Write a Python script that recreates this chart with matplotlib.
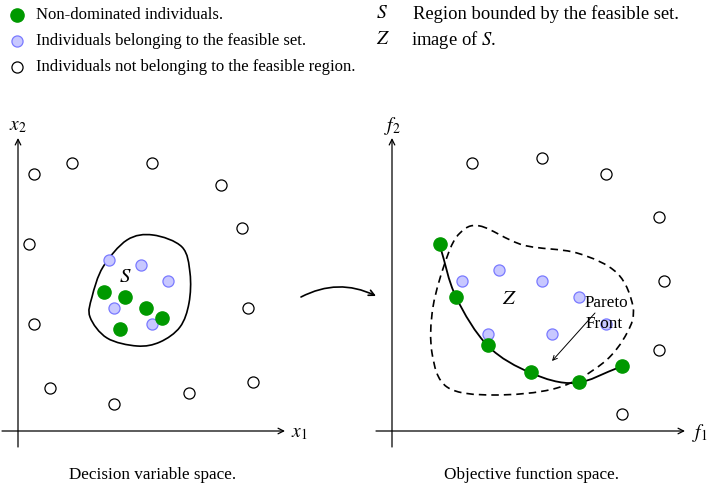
import numpy as np
import matplotlib
matplotlib.use('Agg')
import matplotlib.pyplot as plt
from matplotlib.path import Path
from matplotlib.patches import PathPatch

plt.rcParams['font.family'] = ['Liberation Serif', 'DejaVu Serif']
plt.rcParams['mathtext.fontset'] = 'stix'

# Points in picture coordinates (pixels, y downward)
left_out_x = [34, 72, 152, 221, 242, 29, 248, 34, 50, 114, 189, 253]
left_out_y = [174, 163, 163, 185, 228, 244, 308, 324, 388, 404, 393, 382]
left_feas_x = [109, 141, 168, 114, 152]
left_feas_y = [260, 265, 281, 308, 324]
left_nd_x = [104, 125, 146, 162, 120]
left_nd_y = [292, 297, 308, 318, 329]
region_s_x = [153, 182, 190, 189, 180, 160, 137, 107, 90, 92, 103, 127]
region_s_y = [235, 247, 273, 303, 327, 342, 346, 338, 317, 297, 267, 240]

right_out_x = [472, 542, 606, 659, 664, 659, 622]
right_out_y = [163, 158, 174, 217, 281, 350, 414]
right_feas_x = [462, 499, 542, 579, 606, 488, 552]
right_feas_y = [281, 270, 281, 297, 324, 334, 334]
right_nd_x = [440, 456, 488, 531, 579, 622]
right_nd_y = [244, 297, 345, 372, 382, 366]
front_x = [440, 456, 488, 531, 575, 620]
front_y = [246, 297, 346, 373, 383, 367]
region_z_x = [480, 523, 577, 617, 633, 627, 603, 557, 493, 447, 432, 433, 447, 460]
region_z_y = [226, 245, 253, 273, 307, 333, 363, 388, 395, 387, 353, 307, 257, 233]

GREEN = '#009900'
BLUE_FILL = '#c8c8ff'
BLUE_EDGE = '#7a7aff'


def smooth_path(xs, ys, closed=False):
    """ Catmull-Rom curve through the points, as a cubic Bezier path """
    p = np.column_stack([xs, ys]).astype(float)
    n = len(p)
    if closed:
        idx = [(i - 1) % n for i in range(n + 3)]
        ext = p[idx]
    else:
        ext = np.vstack([2 * p[0] - p[1], p, 2 * p[-1] - p[-2]])
    verts = [ext[1]]
    codes = [Path.MOVETO]
    segs = n if closed else n - 1
    for i in range(segs):
        p0, p1, p2, p3 = ext[i], ext[i + 1], ext[i + 2], ext[i + 3]
        verts += [p1 + (p2 - p0) / 6, p2 - (p3 - p1) / 6, p2]
        codes += [Path.CURVE4] * 3
    return Path(verts, codes)


fig = plt.figure(figsize=(7.07, 4.9), dpi=100)
ax = fig.add_axes([0, 0, 1, 1])
ax.set_xlim(0, 707)
ax.set_ylim(490, 0)
ax.axis('off')

fs = 12.3
arrow = dict(arrowstyle='->', lw=0.9, color='black', shrinkA=0, shrinkB=0,
             mutation_scale=10)

# axes of both panels: (y axis x, x axis start, x axis end, x label x)
for x0, xs, xe, xl, ylab, xlab in [(18, 2, 285, 291, r'$x_2$', r'$x_1$'),
                                   (392, 376, 685, 692, r'$f_2$', r'$f_1$')]:
    ax.annotate('', xy=(x0, 138), xytext=(x0, 447), arrowprops=arrow)
    ax.annotate('', xy=(xe, 431), xytext=(xs, 431), arrowprops=arrow)
    ax.text(x0, 126, ylab, fontsize=14, ha='center', va='center')
    ax.text(xl, 433, xlab, fontsize=14, ha='left', va='center')

# regions
ax.add_patch(PathPatch(smooth_path(region_s_x, region_s_y, closed=True),
                       fill=False, lw=1.2, color='black'))
ax.add_patch(PathPatch(smooth_path(region_z_x, region_z_y, closed=True),
                       fill=False, lw=1.2, color='black', ls=(0, (4.5, 3))))

# points
ms_open, ms_feas, ms_nd = 8, 8, 9.5
for ox, oy, fx, fy, gx, gy in [(left_out_x, left_out_y, left_feas_x, left_feas_y, left_nd_x, left_nd_y),
                               (right_out_x, right_out_y, right_feas_x, right_feas_y, right_nd_x, right_nd_y)]:
    ax.plot(ox, oy, 'o', ms=ms_open, mfc='white', mec='black', mew=0.9, ls='none')
    ax.plot(fx, fy, 'o', ms=ms_feas, mfc=BLUE_FILL, mec=BLUE_EDGE, mew=0.9, ls='none')
    ax.plot(gx, gy, 'o', ms=ms_nd, mfc=GREEN, mec=GREEN, ls='none')

# pareto front
ax.add_patch(PathPatch(smooth_path(front_x, front_y), fill=False, lw=1.3,
                       color='black'))

ax.text(125, 277, r'$S$', fontsize=15, ha='center', va='center')
ax.text(509, 299, r'$Z$', fontsize=15, ha='center', va='center')
ax.text(606, 303, 'Pareto', fontsize=fs, ha='center', va='center')
ax.text(604, 324, 'Front', fontsize=fs, ha='center', va='center')
ax.annotate('', xy=(552, 361), xytext=(595, 313),
            arrowprops=dict(arrowstyle='->', lw=0.7, color='black',
                            shrinkA=0, shrinkB=0, mutation_scale=8))

# arrow between the panels
ax.annotate('', xy=(376, 296), xytext=(301, 297),
            arrowprops=dict(arrowstyle='->', lw=1.2, color='black',
                            shrinkA=0, shrinkB=0, mutation_scale=10,
                            connectionstyle='arc3,rad=-0.25'))

# captions
ax.text(153, 475, 'Decision variable space.', fontsize=fs, ha='center', va='center')
ax.text(532, 475, 'Objective function space.', fontsize=fs, ha='center', va='center')

# legend
fs_l, fs_r = 12.0, 13.4
ax.plot([17], [15], 'o', ms=ms_nd, mfc=GREEN, mec=GREEN)
ax.plot([17], [41], 'o', ms=ms_feas, mfc=BLUE_FILL, mec=BLUE_EDGE, mew=0.9)
ax.plot([17], [67], 'o', ms=ms_open, mfc='white', mec='black', mew=0.9)
ax.text(36, 15, 'Non-dominated individuals.', fontsize=fs_l, va='center')
ax.text(36, 41, 'Individuals belonging to the feasible set.', fontsize=fs_l, va='center')
ax.text(36, 67, 'Individuals not belonging to the feasible region.', fontsize=fs_l, va='center')
ax.text(376, 14, r'$S$', fontsize=14, va='center')
ax.text(376, 40, r'$Z$', fontsize=14, va='center')
ax.text(413, 14, 'Region bounded by the feasible set.', fontsize=fs_r, va='center')
ax.text(411, 40, r'image of $S$.', fontsize=fs_r, va='center')

fig.savefig('out.png', dpi=100)
